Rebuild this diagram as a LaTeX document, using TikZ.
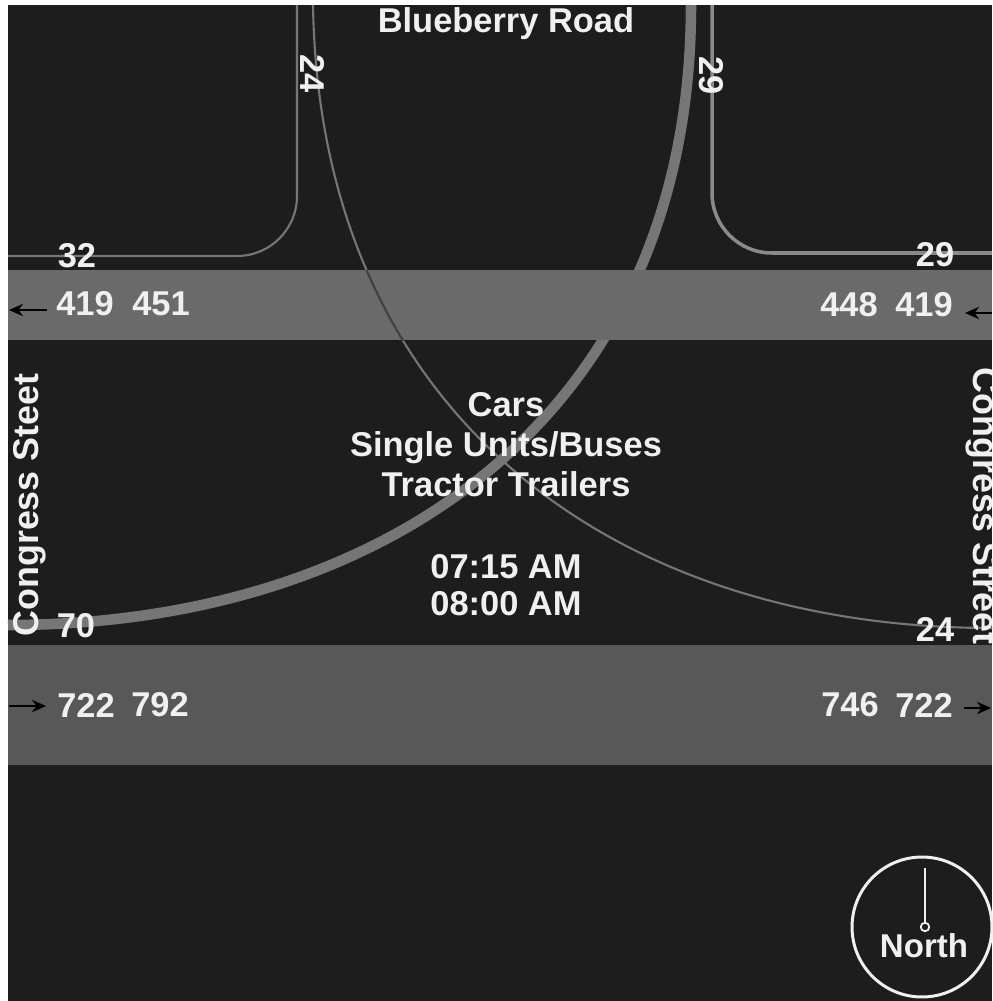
\documentclass[tikz,border=0pt]{standalone}
\usepackage{fontspec}
\setmainfont{Liberation Sans}
\usetikzlibrary{arrows.meta}
\definecolor{pavement}{HTML}{1D1D1D}
\definecolor{bandlight}{HTML}{6A6A6A}
\definecolor{banddark}{HTML}{585858}
\definecolor{flowgray}{HTML}{767676}
\definecolor{flowlight}{HTML}{8A8A8A}
\definecolor{labelwhite}{HTML}{F0F0F0}

\begin{document}
\begin{tikzpicture}[x=0.02cm, y=-0.02cm,
    every node/.style={font=\fontsize{19.6}{22.8}\selectfont\bfseries, text=labelwhite, inner sep=0pt},
    street/.style={font=\fontsize{20.4}{24}\selectfont\bfseries},
    flow/.style={draw=flowgray, line width=1.2pt},
    dirarrow/.style={draw=black, line width=1.2pt, -{Stealth[length=8pt,width=7pt]}},
]
\useasboundingbox (0,0) rectangle (992,1001);
\fill[white] (0,0) rectangle (992,1001);
\fill[pavement] (8,5) rectangle (992,1001);

% Movement lines
\coordinate (lt32a) at (297,5);
\coordinate (lt32b) at (8,256);
\coordinate (rt24a) at (313,5);
\coordinate (rt24b) at (992,628);
\coordinate (th70a) at (691,5);
\coordinate (th70b) at (8,625);
\coordinate (rt29a) at (712,5);
\coordinate (rt29b) at (992,253);

\draw[flow, rounded corners=1.2cm] (lt32a) |- (lt32b);
\draw[flow] (rt24a) .. controls (320,420) and (620,628) .. (rt24b);
\draw[draw=flowgray, line width=6pt] (th70a) .. controls (691,420) and (380,625) .. (th70b);
\draw[draw=flowlight, line width=2pt, rounded corners=1.2cm] (rt29a) |- (rt29b);

% Congress Street bands
\fill[bandlight] (8,270) rectangle (992,340);
\fill[banddark] (8,645) rectangle (992,765);
\begin{scope}
    \clip (8,270) rectangle (992,340);
    \draw[flow, draw=black!75] (rt24a) .. controls (320,420) and (620,628) .. (rt24b);
\end{scope}

% Direction arrows
\coordinate (wbl1) at (47,310);
\coordinate (wbl2) at (9,310);
\coordinate (wbr1) at (992,313);
\coordinate (wbr2) at (965,313);
\coordinate (ebl1) at (9,706);
\coordinate (ebl2) at (46,706);
\coordinate (ebr1) at (964,708);
\coordinate (ebr2) at (991,708);
\draw[dirarrow] (wbl1) -- (wbl2);
\draw[dirarrow] (wbr1) -- (wbr2);
\draw[dirarrow] (ebl1) -- (ebl2);
\draw[dirarrow] (ebr1) -- (ebr2);

% Street names
\node (roadname) at (506,24) {Blueberry Road};
\node[street, rotate=90] (congwest) at (30,505) {Congress Steet};
\node[street, rotate=-90] (congeast) at (982,506) {Congress Street};

% Volumes
\node[rotate=-90] (in24) at (313,74) {24};
\node[rotate=-90] (in29) at (711,76) {29};
\node (wl32) at (77,256) {32};
\node (er29) at (935,255) {29};
\node (w419) at (85,304) {419};
\node (w451) at (161,304) {451};
\node (e448) at (849,305) {448};
\node (e419) at (924,305) {419};
\node (wl70) at (76,626) {70};
\node (er24) at (935,629) {24};
\node (w722) at (86,705) {722};
\node (w792) at (160,705) {792};
\node (e746) at (850,705) {746};
\node (e722) at (924,705) {722};

% Legend and period
\node[align=center] (classes) at (506,445) {Cars\\Single Units/Buses\\Tractor Trailers};
\node[align=center, font=\fontsize{19.6}{21}\selectfont\bfseries] (period) at (506,585) {07:15 AM\\08:00 AM};

% North arrow
\node[draw=labelwhite, circle, line width=1.7pt, minimum size=2.8cm] (compass) at (922,927) {};
\node[draw=labelwhite, circle, line width=1pt, minimum size=0.17cm] (pivot) at (925,927) {};
\coordinate (needle) at (925,868);
\draw[labelwhite, line width=1.5pt] (needle) -- (pivot.north);
\node[font=\fontsize{18.8}{22}\selectfont\bfseries] (northlbl) at (924,946) {North};

\end{tikzpicture}
\end{document}
